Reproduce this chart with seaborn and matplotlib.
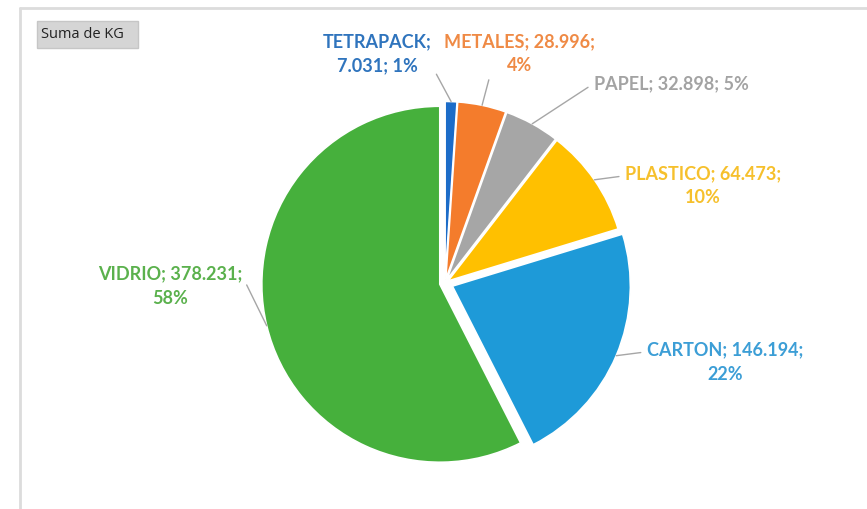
import numpy as np
import matplotlib
matplotlib.use('Agg')
import matplotlib.pyplot as plt
import seaborn as sns
from matplotlib.lines import Line2D
from matplotlib.patches import Rectangle

# data
materiales = ['TETRAPACK', 'METALES', 'PAPEL', 'PLASTICO', 'CARTON', 'VIDRIO']
kg = [7031, 28996, 32898, 64473, 146194, 378231]
pct = [1, 4, 5, 10, 22, 58]
# how each label is broken over lines (after which ';')
saltos = [1, 2, 3, 2, 2, 2]

colores_sector = ['#1c6cc8', '#f47c2c', '#a6a6a6', '#ffc000', '#1e9ad8', '#46b03c']
colores_texto = ['#2f74bd', '#ef8a45', '#a3a3a3', '#f6c02c', '#3c9ed6', '#5bb14d']

sns.set_theme(style='white')
plt.rcParams['font.family'] = ['Lato', 'DejaVu Sans']

fig = plt.figure(figsize=(8.67, 5.09), dpi=100)
ax = fig.add_axes([0, 0, 1, 1])

explode = [0.02, 0.02, 0.02, 0.02, 0.045, 0.03]
wedges, _ = ax.pie(kg, colors=colores_sector, startangle=90, counterclock=False,
                   explode=explode, radius=1.0,
                   wedgeprops=dict(edgecolor='white', linewidth=1.2))

# pixel layout: pie centre (445, 283), radius 178 px (pie() resets limits, so set after)
esc = 178.0
cx, cy = 445.0, 283.0
ax.set_xlim(-cx / esc, (867 - cx) / esc)
ax.set_ylim(-(509 - cy) / esc, cy / esc)
ax.set_aspect('equal')
ax.axis('off')

# label positions (data units) and where the leader leaves the text
pos_label = [(-0.38, 1.29), (0.42, 1.29), (1.27, 1.12), (1.45, 0.545), (1.573, -0.444), (-1.545, -0.017)]
relpos = [(1.0, 0.2), (0.32, 0.2), (0.0, 0.5), (0.0, 0.75), (0.0, 0.75), (1.0, 0.75)]

for i, w in enumerate(wedges):
    partes = [materiales[i], f"{kg[i]:,}".replace(',', '.'), f"{pct[i]}%"]
    if saltos[i] == 1:
        txt = partes[0] + ';\n' + partes[1] + '; ' + partes[2]
    elif saltos[i] == 2:
        txt = partes[0] + '; ' + partes[1] + ';\n' + partes[2]
    else:
        txt = '; '.join(partes)
    ang = np.deg2rad((w.theta1 + w.theta2) / 2)
    x0, y0 = w.center
    r = w.r
    punto = (x0 + r * np.cos(ang), y0 + r * np.sin(ang))
    ax.annotate(txt, xy=punto, xytext=pos_label[i], ha='center', va='center',
                fontsize=13, fontweight='bold', color=colores_texto[i],
                linespacing=1.5,
                arrowprops=dict(arrowstyle='-', color='#a6a6a6', lw=1.0,
                                relpos=relpos[i], shrinkA=2, shrinkB=0))

# chart frame (top and left edges)
fig.add_artist(Line2D([20 / 867, 1], [1 - 8 / 509, 1 - 8 / 509], color='#dcdcdc', lw=2))
fig.add_artist(Line2D([20 / 867, 20 / 867], [0, 1 - 8 / 509], color='#dcdcdc', lw=2))

# field button
fig.add_artist(Rectangle((37 / 867, 1 - 48 / 509), 101 / 867, 27 / 509,
                         transform=fig.transFigure, facecolor='#d5d5d5',
                         edgecolor='#c6c6c6', lw=1))
fig.text(41 / 867, 1 - 35 / 509, 'Suma de KG', ha='left', va='center', fontsize=10.5,
         color='#222222', family=['Open Sans', 'DejaVu Sans'])

fig.savefig('out.png', dpi=100)
